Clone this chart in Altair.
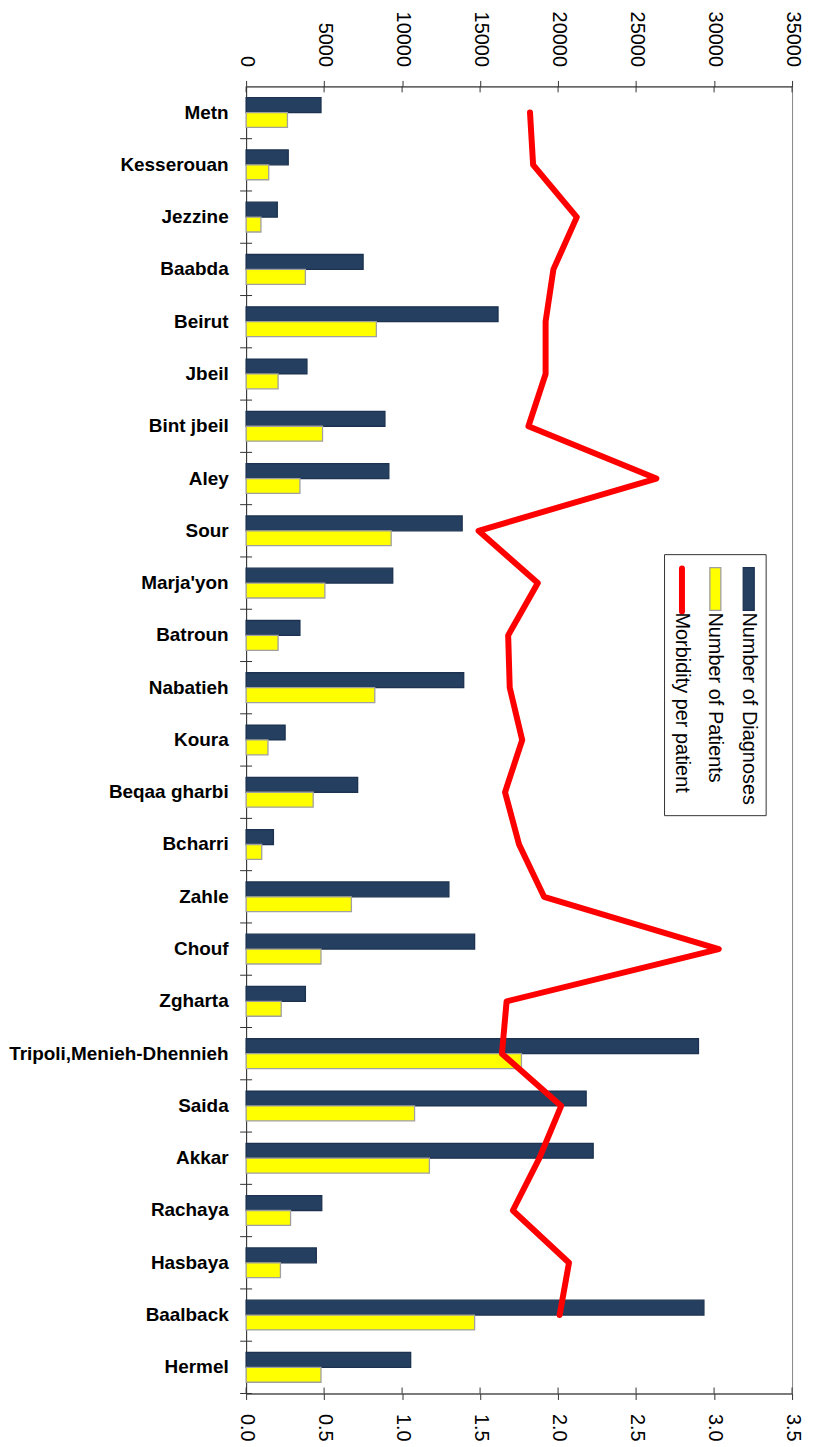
import altair as alt
import pandas as pd

categories = ["Metn", "Kesserouan", "Jezzine", "Baabda", "Beirut", "Jbeil", "Bint jbeil",
              "Aley", "Sour", "Marja'yon", "Batroun", "Nabatieh", "Koura", "Beqaa gharbi",
              "Bcharri", "Zahle", "Chouf", "Zgharta", "Tripoli,Menieh-Dhennieh", "Saida",
              "Akkar", "Rachaya", "Hasbaya", "Baalback", "Hermel"]
diagnoses = [4800, 2700, 2000, 7500, 16150, 3900, 8900, 9150, 13850, 9400, 3450, 13950,
             2500, 7150, 1750, 13000, 14650, 3800, 29000, 21800, 22250, 4850, 4500, 29350, 10550]
patients = [2650, 1450, 950, 3800, 8350, 2050, 4900, 3450, 9300, 5050, 2050, 8250,
            1400, 4300, 1000, 6750, 4800, 2250, 17650, 10800, 11750, 2850, 2200, 14650, 4800]
morbidity = [1.82, 1.84, 2.12, 1.97, 1.92, 1.92, 1.81, 2.63, 1.49, 1.87, 1.68, 1.69,
             1.77, 1.66, 1.75, 1.91, 3.03, 1.67, 1.64, 2.02, 1.88, 1.71, 2.07, 2.01, None]

series_names = ["Number of Diagnoses", "Number of Patients"]
line_name = "Morbidity per patient"
bar_colors = ["#243F60", "#FFFF00"]
bar_strokes = ["#1C3250", "#A0A0A0"]
line_color = "#FF0000"
count_ticks = [0, 5000, 10000, 15000, 20000, 25000, 30000, 35000]
ratio_ticks = [0.0, 0.5, 1.0, 1.5, 2.0, 2.5, 3.0, 3.5]

FONT = "Liberation Sans"
AXIS_COLOR = "#333333"
W, H = 548, 1312
STEP = H / len(categories)

bars_df = pd.DataFrame({
    "District": categories * 2,
    "Series": [series_names[0]] * len(categories) + [series_names[1]] * len(categories),
    "Value": diagnoses + patients,
})
line_df = pd.DataFrame({"District": categories, "Morbidity": morbidity})
top_ticks_df = pd.DataFrame({"Value": count_ticks})
bottom_ticks_df = pd.DataFrame({"Morbidity": ratio_ticks})
cat_df = pd.DataFrame({"District": categories})

y_enc = alt.Y(
    "District:N", sort=categories,
    scale=alt.Scale(paddingInner=0.43, paddingOuter=0.215),
    axis=alt.Axis(title=None, labelFont=FONT, labelFontWeight="bold", labelFontSize=19,
                  labelColor="black", ticks=False, tickSize=0,
                  domainColor=AXIS_COLOR, labelPadding=18, labelLimit=400),
)

x_top = alt.X("Value:Q", scale=alt.Scale(domain=[0, 35000], nice=False),
              axis=alt.Axis(orient="top", title=None, values=count_ticks, format="d",
                            labelAngle=90, labelAlign="right", labelBaseline="middle",
                            labelFont=FONT, labelFontSize=20, labelColor="black",
                            tickSize=6, labelPadding=14, tickColor=AXIS_COLOR,
                            domainColor=AXIS_COLOR, grid=False))

x_bottom = alt.X("Morbidity:Q", scale=alt.Scale(domain=[0, 3.5], nice=False),
                 axis=alt.Axis(orient="bottom", title=None, values=ratio_ticks, format=".1f",
                               labelAngle=90, labelAlign="left", labelBaseline="middle",
                               labelFont=FONT, labelFontSize=20, labelColor="black",
                               tickSize=6, labelPadding=14, tickColor=AXIS_COLOR,
                               domainColor=AXIS_COLOR, grid=False))

bars = alt.Chart(bars_df).mark_bar(strokeWidth=1.3).encode(
    x=x_top,
    y=y_enc,
    yOffset=alt.YOffset("Series:N", sort=series_names, scale=alt.Scale(paddingInner=0, paddingOuter=0)),
    color=alt.Color("Series:N", scale=alt.Scale(domain=series_names, range=bar_colors), legend=None),
    stroke=alt.Stroke("Series:N", scale=alt.Scale(domain=series_names, range=bar_strokes), legend=None),
)

# inner halves of the crossing tick marks
top_inner = alt.Chart(top_ticks_df).mark_rule(color=AXIS_COLOR, strokeWidth=1).encode(
    x=x_top, y=alt.value(0), y2=alt.value(6))
bottom_inner = alt.Chart(bottom_ticks_df).mark_rule(color=AXIS_COLOR, strokeWidth=1).encode(
    x=x_bottom, y=alt.value(H - 6), y2=alt.value(H))
cat_ticks = alt.Chart(cat_df).mark_rule(color=AXIS_COLOR, strokeWidth=1, yOffset=STEP / 2).encode(
    y=y_enc, x=alt.value(-6), x2=alt.value(6))

line = alt.Chart(line_df).mark_line(color=line_color, strokeWidth=6, strokeCap="round",
                                    strokeJoin="round").encode(
    x=x_bottom,
    y=y_enc,
)

# Legend (rotated, drawn manually)
dummy = pd.DataFrame({"k": [0]})
legend_layers = [
    alt.Chart(dummy).mark_rect(fill="white", stroke=AXIS_COLOR, strokeWidth=1).encode(
        x=alt.value(420), x2=alt.value(522), y=alt.value(470), y2=alt.value(732))
]
legend_labels = series_names + [line_name]
for i, lab in enumerate(legend_labels):
    cx = 504.5 - 33.5 * i
    if i < 2:
        legend_layers.append(
            alt.Chart(dummy).mark_rect(fill=bar_colors[i], stroke=bar_strokes[i], strokeWidth=1.3).encode(
                x=alt.value(cx - 5.5), x2=alt.value(cx + 5.5), y=alt.value(483), y2=alt.value(526)))
    else:
        legend_layers.append(
            alt.Chart(dummy).mark_rule(color=line_color, strokeWidth=6, strokeCap="round").encode(
                x=alt.value(cx), y=alt.value(484), y2=alt.value(527)))
    legend_layers.append(
        alt.Chart(dummy).mark_text(text=lab, angle=90, align="left", baseline="middle",
                                   font=FONT, fontSize=20, color="black").encode(
            x=alt.value(cx), y=alt.value(528)))

top_group = alt.layer(bars, top_inner, cat_ticks)
bottom_group = alt.layer(line, bottom_inner)

chart = alt.layer(top_group, bottom_group, *legend_layers).resolve_scale(x="independent").properties(
    width=W, height=H,
    padding={"left": 0, "top": 0, "right": 5, "bottom": 0},
).configure_view(stroke="#888888", strokeWidth=1).configure_axis(grid=False)

chart.save("out.html", embed_options={"renderer": "svg", "actions": False})
